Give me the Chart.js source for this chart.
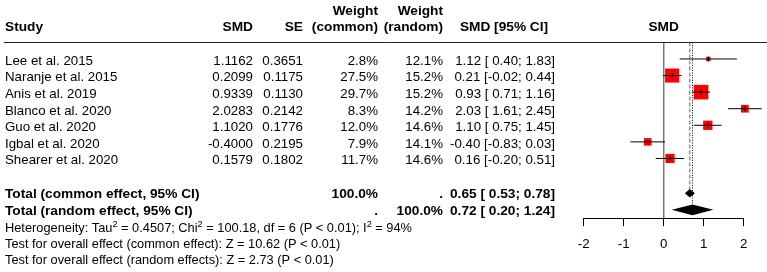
<!DOCTYPE html>
<html>
<head>
<meta charset="utf-8">
<script src="https://cdn.jsdelivr.net/npm/chart.js@4.4.1/dist/chart.umd.min.js"></script>
<style>
  html, body { margin: 0; padding: 0; background: #fff; }
  canvas { display: block; }
</style>
</head>
<body>
<canvas id="forest" width="767" height="272"></canvas>
<script>
// Study-level data
const studies = ['Lee et al. 2015', 'Naranje et al. 2015', 'Anis et al. 2019', 'Blanco et al. 2020',
                 'Guo et al. 2020', 'Igbal et al. 2020', 'Shearer et al. 2020'];
const smd = [1.1162, 0.2099, 0.9339, 2.0283, 1.1020, -0.4000, 0.1579];
const se = [0.3651, 0.1175, 0.1130, 0.2142, 0.1776, 0.2195, 0.1802];
const ciLower = [0.40, -0.02, 0.71, 1.61, 0.75, -0.83, -0.20];
const ciUpper = [1.83, 0.44, 1.16, 2.45, 1.45, 0.03, 0.51];
const weightCommon = [2.8, 27.5, 29.7, 8.3, 12.0, 7.9, 11.7];
const weightRandom = [12.1, 15.2, 15.2, 14.2, 14.6, 14.1, 14.6];

// Pooled estimates
const pooledLabels = ['Total (common effect, 95% CI)', 'Total (random effect, 95% CI)'];
const pooledEst = [0.65, 0.72];
const pooledLower = [0.53, 0.20];
const pooledUpper = [0.78, 1.24];
const pooledWeightCommon = ['100.0%', '.'];
const pooledWeightRandom = ['.', '100.0%'];

// Axis ticks
const axisTicks = [-2, -1, 0, 1, 2];

// Footer statistics
const heterogeneityRuns = [['Heterogeneity: Tau', false], ['2', true], [' = 0.4507; Chi', false], ['2', true],
                           [' = 100.18, df = 6 (P < 0.01); I', false], ['2', true], [' = 94%', false]];
const testCommon = 'Test for overall effect (common effect): Z = 10.62 (P < 0.01)';
const testRandom = 'Test for overall effect (random effects): Z = 2.73 (P < 0.01)';

// Row layout on the vertical scale (0 = header rule, yMax = axis line)
const studyRows = studies.map((_, i) => i + 1);
const pooledRows = [9.1, 10.1];
const yMax = 10.6;
const diamondHalf = [0.26, 0.33];

const FONT = "'Liberation Sans', Arial, Helvetica, sans-serif";
const FS = 13.3;      // table body
const FS_BOLD = 13.7; // headers and pooled rows
const FS_FOOT = 12.8; // heterogeneity and tests

const fmtCI = (est, lo, hi) =>
  est.toFixed(2) + ' [' + (lo >= 0 ? ' ' : '') + lo.toFixed(2) + '; ' + hi.toFixed(2) + ']';

const squareSide = w => 2.68 * Math.sqrt(w);

const datasets = [];

// Reference line at no effect
datasets.push({
  data: [{ x: 0, y: 0 }, { x: 0, y: yMax }],
  showLine: true, borderColor: '#777', borderWidth: 1, pointRadius: 0, order: 5, clip: false
});
// Common-effect line (dashed) and random-effect line (dotted)
datasets.push({
  data: [{ x: pooledEst[0], y: 0 }, { x: pooledEst[0], y: pooledRows[0] - diamondHalf[0] }],
  showLine: true, borderColor: '#999', borderWidth: 1.6, borderDash: [4, 2], pointRadius: 0, order: 4, clip: false
});
datasets.push({
  data: [{ x: pooledEst[1], y: 0 }, { x: pooledEst[1], y: pooledRows[1] - diamondHalf[1] }],
  showLine: true, borderColor: '#000', borderWidth: 1, borderDash: [1, 1.5], pointRadius: 0, order: 4, clip: false
});
// Weighted squares
datasets.push({
  data: smd.map((v, i) => ({ x: v, y: studyRows[i] })),
  showLine: false, pointStyle: 'rect',
  pointRadius: c => squareSide(weightCommon[c.dataIndex]) / Math.SQRT2,
  pointBackgroundColor: '#ff0000', pointBorderWidth: 0, order: 3, clip: false
});
// Confidence intervals
studies.forEach((_, i) => {
  datasets.push({
    data: [{ x: ciLower[i], y: studyRows[i] }, { x: ciUpper[i], y: studyRows[i] }],
    showLine: true, borderColor: '#000', borderWidth: 1, pointRadius: 0, order: 2, clip: false
  });
});
// Point-estimate ticks
datasets.push({
  data: smd.map((v, i) => ({ x: v, y: studyRows[i] })),
  showLine: false, pointStyle: 'line', pointRotation: 90, pointRadius: 2.5,
  pointBorderColor: '#000', pointBorderWidth: 1, order: 1, clip: false
});

const forestPlugin = {
  id: 'forestTable',
  afterDatasetsDraw(chart) {
    const ctx = chart.ctx, xs = chart.scales.x, ys = chart.scales.y;
    ctx.save();
    ctx.fillStyle = '#000';
    pooledEst.forEach((est, k) => {
      const cy = ys.getPixelForValue(pooledRows[k]);
      const h = ys.getPixelForValue(pooledRows[k] + diamondHalf[k]) - cy;
      ctx.beginPath();
      ctx.moveTo(xs.getPixelForValue(pooledLower[k]), cy);
      ctx.lineTo(xs.getPixelForValue(est), cy - h);
      ctx.lineTo(xs.getPixelForValue(pooledUpper[k]), cy);
      ctx.lineTo(xs.getPixelForValue(est), cy + h);
      ctx.closePath();
      ctx.fill();
    });
    ctx.restore();
  },
  afterDraw(chart) {
    const ctx = chart.ctx, ys = chart.scales.y, area = chart.chartArea;
    ctx.save();
    ctx.fillStyle = '#000';
    ctx.textBaseline = 'alphabetic';
    const bold = 'bold ' + FS_BOLD + 'px ' + FONT;
    const normal = FS + 'px ' + FONT;
    const foot = FS_FOOT + 'px ' + FONT;
    const text = (s, x, y, align, font) => { ctx.font = font; ctx.textAlign = align; ctx.fillText(s, x, y); };

    // Column headers
    text('Weight', 378, 15, 'right', bold);
    text('Weight', 443, 15, 'right', bold);
    text('Study', 5, 31, 'left', bold);
    text('SMD', 253, 31, 'right', bold);
    text('SE', 303, 31, 'right', bold);
    text('(common)', 378, 31, 'right', bold);
    text('(random)', 443, 31, 'right', bold);
    text('SMD [95% CI]', 504, 31, 'center', bold);
    text('SMD', (area.left + area.right) / 2, 31, 'center', bold);

    // Header rule
    const ruleY = Math.round(ys.getPixelForValue(0)) + 0.5;
    ctx.strokeStyle = '#222';
    ctx.lineWidth = 1;
    ctx.beginPath();
    ctx.moveTo(4, ruleY);
    ctx.lineTo(767, ruleY);
    ctx.stroke();

    // Study rows
    studies.forEach((name, i) => {
      const y = ys.getPixelForValue(studyRows[i]) + 5.8;
      text(name, 5, y, 'left', normal);
      text(smd[i].toFixed(4), 253, y, 'right', normal);
      text(se[i].toFixed(4), 303, y, 'right', normal);
      text(weightCommon[i].toFixed(1) + '%', 378, y, 'right', normal);
      text(weightRandom[i].toFixed(1) + '%', 443, y, 'right', normal);
      text(fmtCI(smd[i], ciLower[i], ciUpper[i]), 555, y, 'right', normal);
    });

    // Pooled rows
    pooledLabels.forEach((lab, k) => {
      const y = ys.getPixelForValue(pooledRows[k]) + 5;
      text(lab, 5, y, 'left', bold);
      text(pooledWeightCommon[k], 378, y, 'right', bold);
      text(pooledWeightRandom[k], 443, y, 'right', bold);
      text(fmtCI(pooledEst[k], pooledLower[k], pooledUpper[k]), 555, y, 'right', bold);
    });

    // Heterogeneity line with superscripts
    let x = 5;
    ctx.textAlign = 'left';
    heterogeneityRuns.forEach(([s, sup]) => {
      ctx.font = sup ? (FS_FOOT * 0.72) + 'px ' + FONT : foot;
      ctx.fillText(s, x, sup ? 226.5 : 231.7);
      x += ctx.measureText(s).width;
    });
    text(testCommon, 5, 247.7, 'left', foot);
    text(testRandom, 5, 264, 'left', foot);
    ctx.restore();
  }
};

new Chart(document.getElementById('forest'), {
  type: 'scatter',
  data: { datasets },
  options: {
    responsive: false,
    devicePixelRatio: 1,
    animation: false,
    events: [],
    layout: { padding: { left: 583.7, right: 23.3, top: 42.4, bottom: 9.9 } },
    plugins: { legend: { display: false }, tooltip: { enabled: false } },
    scales: {
      x: {
        type: 'linear', position: 'bottom', min: -2, max: 2,
        afterBuildTicks: s => { s.ticks = axisTicks.map(v => ({ value: v })); },
        ticks: { color: '#000', font: { family: FONT, size: FS }, padding: 10, maxRotation: 0 },
        grid: { drawOnChartArea: false, drawTicks: true, tickLength: 8, color: '#000', lineWidth: 1 },
        border: { display: true, color: '#000', width: 1 }
      },
      y: { type: 'linear', display: false, min: 0, max: yMax, reverse: true }
    }
  },
  plugins: [forestPlugin]
});
</script>
</body>
</html>
